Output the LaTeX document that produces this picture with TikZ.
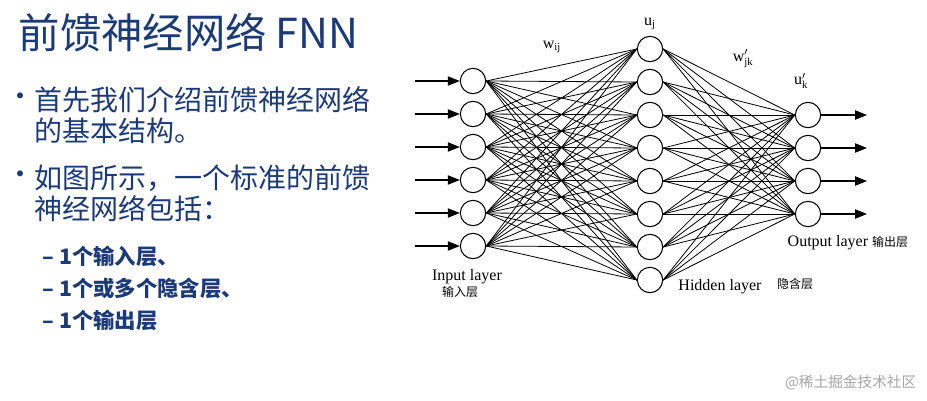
\documentclass[tikz,border=0pt]{standalone}
\usepackage{fontspec}
\setmainfont{Liberation Serif}
\newfontfamily\cjk{Noto Sans CJK SC}
\usetikzlibrary{arrows.meta}
\definecolor{tblue}{HTML}{1B3A7A}
\begin{document}
\begin{tikzpicture}[x=0.75pt,y=-0.75pt,
  neu/.style={circle,draw,thick,minimum size=19pt,inner sep=0pt},
  ed/.style={draw,line width=0.6pt},
  arr/.style={draw,line width=0.8pt,-{Triangle[length=9pt,width=7pt]}},
  lab/.style={font=\fontsize{12}{13}\selectfont},
  bt/.style={anchor=west,text=tblue,font=\cjk\fontsize{21}{23}\selectfont},
  sb/.style={anchor=west,text=tblue,font=\cjk\bfseries\fontsize{16}{18}\selectfont}]
\useasboundingbox (0,0) rectangle (927,400);
\node[anchor=west,text=tblue,font=\cjk\fontsize{31}{33}\selectfont] (title) at (14,33) {前馈神经网络 FNN};
\node[bt] (b1) at (2,100) {•};
\node[bt] (t1) at (30,100) {首先我们介绍前馈神经网络};
\node[bt] (t1b) at (30,131) {的基本结构。};
\node[bt] (b2) at (2,178) {•};
\node[bt] (t2) at (30,178) {如图所示，一个标准的前馈};
\node[bt] (t2b) at (30,209) {神经网络包括：};
\node[sb] (s1) at (38,256) {– 1个输入层、};
\node[sb] (s2) at (38,288) {– 1个或多个隐含层、};
\node[sb] (s3) at (38,320) {– 1个输出层};
\foreach \i in {1,...,6}{
  \node[neu] (i\i) at (473,{81+33*(\i-1)}) {};
  \coordinate (a\i) at (415,{81+33*(\i-1)});
  \draw[arr] (a\i) -- (i\i.west);
}
\foreach \j in {1,...,8}{\node[neu] (h\j) at (650,{49+33*(\j-1)}) {};}
\foreach \k in {1,...,4}{
  \node[neu] (o\k) at (808,{115+33*(\k-1)}) {};
  \coordinate (z\k) at (867,{115+33*(\k-1)});
  \draw[arr] (o\k.east) -- (z\k);
}
\foreach \i in {1,...,6}{\foreach \j in {1,...,8}{\draw[ed] (i\i.east) -- (h\j.west);}}
\foreach \j in {1,...,8}{\foreach \k in {1,...,4}{\draw[ed] (h\j.east) -- (o\k.west);}}
\node[lab] (wij) at (552,47) {w$_{\mathrm{ij}}$};
\node[lab] (uj) at (650,24) {u$_{\mathrm{j}}$};
\node[lab] (wjk) at (743,59) {w$'_{\mathrm{jk}}$};
\node[lab] (uk) at (801,81) {u$'_{\mathrm{k}}$};
\node[lab,anchor=west] (ol) at (783,243) {Output layer {\cjk\fontsize{9}{10}\selectfont 输出层}};
\node[lab] (il) at (467,277) {Input layer};
\node[lab,font=\cjk\fontsize{9}{10}\selectfont] (il2) at (460,292) {输入层};
\node[lab] (hl) at (720,287) {Hidden layer};
\node[lab,font=\cjk\fontsize{9}{10}\selectfont] (hl2) at (795,284) {隐含层};
\node[anchor=east,text=gray!70,font=\cjk\fontsize{11}{12}\selectfont] (wm) at (921,383) {@稀土掘金技术社区};
\end{tikzpicture}
\end{document}
